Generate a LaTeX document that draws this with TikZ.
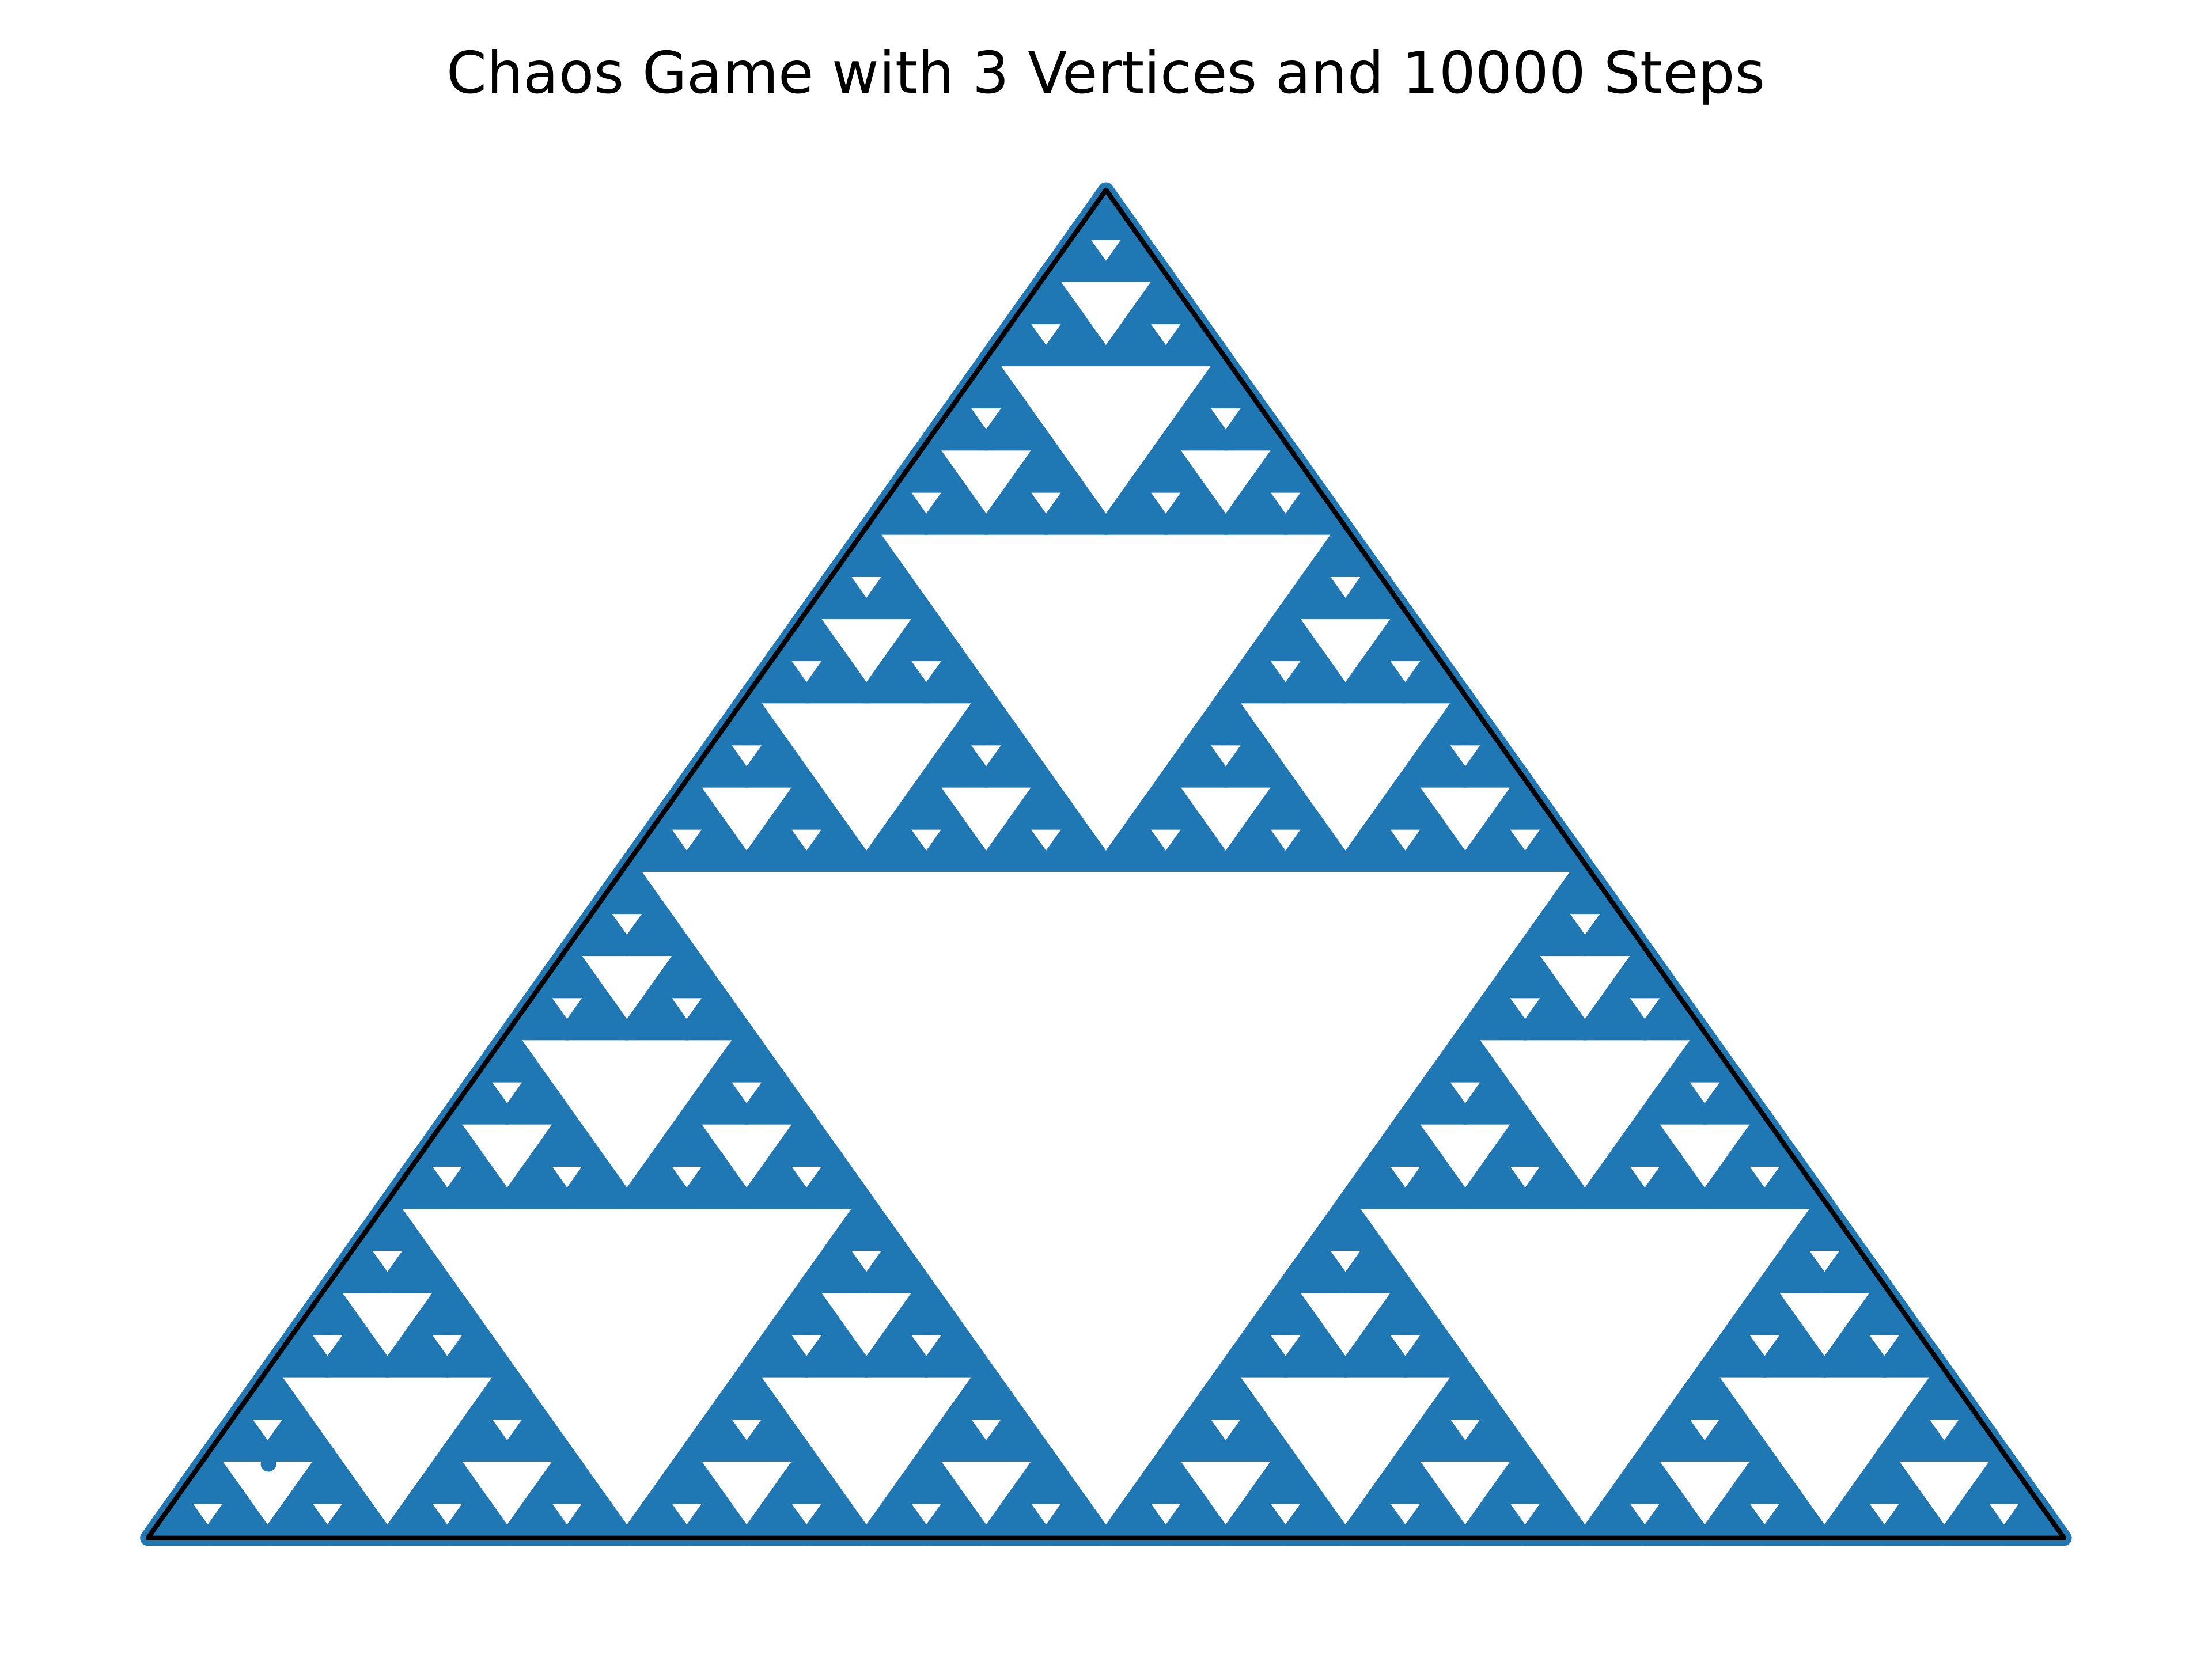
\documentclass[tikz,border=0pt]{standalone}
\usepackage{fontspec}
\setmainfont{DejaVu Sans}
\definecolor{chaosblue}{RGB}{31, 119, 180}

\tikzset{
    dots/.style={fill=chaosblue, draw=chaosblue, line width=0.27cm, line join=round},
    outline/.style={draw=black, line width=0.083cm, line join=round},
}

% one level of the gasket: three half-size copies
\newcommand{\gasket}[1]{%
    \ifnum#1>0
        \begin{scope}[scale=0.5]
            \expandafter\gasket\expandafter{\the\numexpr#1-1\relax}
        \end{scope}
        \begin{scope}[shift={(0.5,0)}, scale=0.5]
            \expandafter\gasket\expandafter{\the\numexpr#1-1\relax}
        \end{scope}
        \begin{scope}[shift={(0.25,0.5)}, scale=0.5]
            \expandafter\gasket\expandafter{\the\numexpr#1-1\relax}
        \end{scope}
    \else
        \filldraw[dots] (0,0) -- (1,0) -- (0.5,1) -- cycle;
    \fi}

\begin{document}
\begin{tikzpicture}
            \useasboundingbox (0,0) rectangle (38.4,28.85);
            % Vertices
            \coordinate (left)  at ( 2.567, 2.143);
            \coordinate (right) at (35.830, 2.143);
            \coordinate (apex)  at (19.200,25.550);
            % Visited points
            \begin{scope}[shift={(left)}, x={(33.263cm,0)}, y={(0,23.407cm)}]
                \gasket{5}
            \end{scope}
            \fill[chaosblue] (4.66, 3.43) circle (0.135);
            % Triangle
            \draw[outline] (left) -- (right) -- (apex) -- cycle;
            % Title
            \node[anchor=base, font=\fontsize{28.45}{34}\selectfont] (title) at (19.2, 27.23) {Chaos Game with 3 Vertices and 10000 Steps};
\end{tikzpicture}
\end{document}
